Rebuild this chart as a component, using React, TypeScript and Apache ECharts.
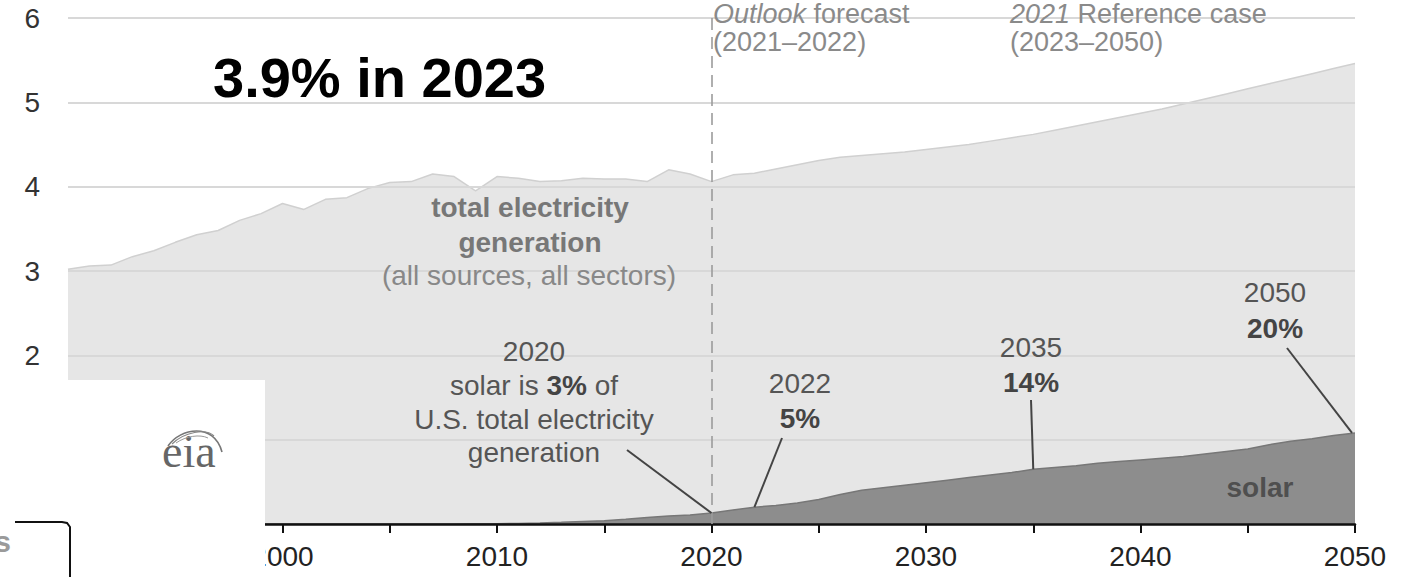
import React, { useEffect, useRef } from 'react';
import * as echarts from 'echarts';

const years = [
  1990, 1991, 1992, 1993, 1994, 1995, 1996, 1997, 1998, 1999,
  2000, 2001, 2002, 2003, 2004, 2005, 2006, 2007, 2008, 2009,
  2010, 2011, 2012, 2013, 2014, 2015, 2016, 2017, 2018, 2019,
  2020, 2021, 2022, 2023, 2024, 2025, 2026, 2027, 2028, 2029,
  2030, 2031, 2032, 2033, 2034, 2035, 2036, 2037, 2038, 2039,
  2040, 2041, 2042, 2043, 2044, 2045, 2046, 2047, 2048, 2049,
  2050,
];

// total U.S. electricity generation, trillion kWh (history + forecast)
const totalGeneration = [
  3.02, 3.06, 3.07, 3.17, 3.24, 3.34, 3.43, 3.48, 3.60, 3.68,
  3.80, 3.73, 3.85, 3.87, 3.98, 4.05, 4.06, 4.15, 4.12, 3.95,
  4.12, 4.10, 4.06, 4.07, 4.10, 4.09, 4.09, 4.06, 4.20, 4.15,
  4.06, 4.14, 4.16, 4.21, 4.26, 4.31, 4.35, 4.37, 4.39, 4.41,
  4.44, 4.47, 4.50, 4.54, 4.58, 4.62, 4.67, 4.72, 4.77, 4.82,
  4.87, 4.92, 4.98, 5.04, 5.10, 5.16, 5.22, 5.28, 5.34, 5.40,
  5.46,
];

// solar generation, trillion kWh
const solarGeneration = [
  0, 0, 0, 0, 0, 0, 0, 0, 0, 0,
  0, 0, 0, 0, 0, 0, 0, 0, 0.001, 0.002,
  0.003, 0.006, 0.012, 0.02, 0.03, 0.04, 0.055, 0.077, 0.094, 0.107,
  0.13, 0.165, 0.2, 0.22, 0.25, 0.29, 0.35, 0.4, 0.43, 0.46,
  0.49, 0.52, 0.55, 0.58, 0.61, 0.65, 0.67, 0.69, 0.72, 0.74,
  0.76, 0.78, 0.8, 0.83, 0.86, 0.89, 0.94, 0.98, 1.01, 1.05,
  1.08,
];

const yTicks = [0, 1, 2, 3, 4, 5, 6];
const xLabelYears = [2000, 2010, 2020, 2030, 2040, 2050];

const title = '3.9% in 2023';

const FONT = '"Liberation Sans", Arial, sans-serif';

export default function App() {
  const ref = useRef<HTMLDivElement>(null);

  useEffect(() => {
    if (!ref.current) return;
    const chart = echarts.init(ref.current, null, { renderer: 'svg' });

    const totalData = years.map((y, i) => [y, totalGeneration[i]]);
    const solarData = years.map((y, i) => [y, solarGeneration[i]]);

    chart.setOption({
      animation: false,
      backgroundColor: '#ffffff',
      grid: { left: 68, right: 54, top: 18, bottom: 53, containLabel: false },
      xAxis: {
        type: 'value',
        min: 1990,
        max: 2050,
        interval: 5,
        z: 4,
        axisLine: { show: true, lineStyle: { color: '#111', width: 2.5 } },
        axisTick: { show: true, length: 9, lineStyle: { color: '#111', width: 2 } },
        axisLabel: {
          fontSize: 28,
          fontFamily: FONT,
          color: '#222',
          margin: 18,
          formatter: (v: number) => (xLabelYears.includes(v) ? String(v) : ''),
        },
        splitLine: { show: false },
      },
      yAxis: {
        type: 'value',
        min: yTicks[0],
        max: yTicks[yTicks.length - 1],
        interval: 1,
        z: 2,
        axisLine: { show: false },
        axisTick: { show: false },
        axisLabel: { fontSize: 28, fontFamily: FONT, color: '#333', margin: 28 },
        splitLine: { show: true, lineStyle: { color: '#d8d8d8', width: 2 } },
      },
      series: [
        {
          name: 'total electricity generation',
          type: 'line',
          z: 1,
          data: totalData,
          symbol: 'none',
          lineStyle: { color: '#d0d0d0', width: 1.5 },
          areaStyle: { color: '#e6e6e6', opacity: 1 },
        },
        {
          name: 'solar',
          type: 'line',
          z: 3,
          data: solarData,
          symbol: 'none',
          lineStyle: { color: '#777', width: 1.5 },
          areaStyle: { color: '#8d8d8d', opacity: 1 },
          markLine: {
            silent: true,
            symbol: 'none',
            label: { show: false },
            lineStyle: { color: '#9c9c9c', type: [12, 7], width: 1.6 },
            data: [{ xAxis: 2020 }],
          },
        },
      ],
    });

    const px = (x: number, y: number) => chart.convertToPixel({ gridIndex: 0 }, [x, y]) as number[];
    const solarAt = (yr: number) => solarGeneration[years.indexOf(yr)];

    const txt = (x: number, y: number, text: string, opts: any = {}) => ({
      type: 'text',
      x,
      y,
      z: 50,
      style: {
        text,
        fill: opts.fill || '#555',
        fontSize: opts.fontSize || 28,
        fontWeight: opts.fontWeight || 'normal',
        fontFamily: FONT,
        lineHeight: opts.lineHeight,
        align: opts.align || 'center',
        verticalAlign: 'middle',
        rich: opts.rich,
      },
    });
    const leader = (x1: number, y1: number, p: number[]) => ({
      type: 'line',
      z: 50,
      shape: { x1, y1, x2: p[0], y2: p[1] },
      style: { stroke: '#444', lineWidth: 2 },
    });

    const p2020 = px(2020, solarAt(2020));
    const p2022 = px(2022, solarAt(2022));
    const p2035 = px(2035, solarAt(2035));
    const p2050 = px(2050, solarAt(2050));
    p2050[0] -= 3;

    const richBase = { fontSize: 28, fontFamily: FONT, fill: '#555', color: '#555' };
    const topGray = '#8a8a8a';
    const richTop = {
      i: { fontSize: 27, lineHeight: 26, fontFamily: FONT, fontStyle: 'italic', fill: topGray, color: topGray },
      r: { fontSize: 27, lineHeight: 26, fontFamily: FONT, fill: topGray, color: topGray },
    };

    const elements: any[] = [
      // title
      txt(213, 77, title, { fill: '#000', fontSize: 56, fontWeight: 'bold', align: 'left' }),
      // period labels
      txt(713, 14, '{i|Outlook}{r| forecast}', { align: 'left', rich: richTop, fontSize: 27, fill: topGray, lineHeight: 26 }),
      txt(713, 42, '(2021–2022)', { align: 'left', fill: topGray, fontSize: 27, lineHeight: 26 }),
      txt(1010, 14, '{i|2021}{r| Reference case}', { align: 'left', rich: richTop, fontSize: 27, fill: topGray, lineHeight: 26 }),
      txt(1010, 42, '(2023–2050)', { align: 'left', fill: topGray, fontSize: 27, lineHeight: 26 }),
      // total label
      txt(530, 207, 'total electricity', { fill: '#777', fontWeight: 'bold' }),
      txt(530, 242, 'generation', { fill: '#777', fontWeight: 'bold' }),
      txt(529, 275, '(all sources, all sectors)', { fill: '#888' }),
      // 2020 annotation
      txt(534, 351, '2020'),
      txt(534, 385, '{a|solar is }{b|3%}{a| of}', {
        rich: { a: richBase, b: { ...richBase, fontWeight: 'bold', fill: '#444', color: '#444' } },
      }),
      txt(534, 419, 'U.S. total electricity'),
      txt(534, 452, 'generation'),
      leader(627, 450, p2020),
      // 2022
      txt(800, 383, '2022'),
      txt(800, 418, '5%', { fontWeight: 'bold', fill: '#444' }),
      leader(782, 438, p2022),
      // 2035
      txt(1031, 347, '2035'),
      txt(1031, 382, '14%', { fontWeight: 'bold', fill: '#444' }),
      leader(1031, 400, p2035),
      // 2050
      txt(1275, 292, '2050'),
      txt(1275, 328, '20%', { fontWeight: 'bold', fill: '#444' }),
      leader(1287, 348, p2050),
      // solar label
      txt(1260, 487, 'solar', { fontWeight: 'bold', fill: '#4f4f4f' }),
      // white overlay box with eia logo
      {
        type: 'rect',
        z: 100,
        shape: { x: 0, y: 380, width: 265, height: 197 },
        style: { fill: '#ffffff' },
      },
      {
        type: 'text',
        x: 162,
        y: 474,
        z: 101,
        style: {
          text: 'eia',
          fill: '#666',
          fontSize: 46,
          fontFamily: '"Liberation Serif", "DejaVu Serif", serif',
          align: 'left',
          verticalAlign: 'bottom',
        },
      },
      {
        type: 'bezierCurve',
        z: 101,
        shape: { x1: 168, y1: 446, cpx1: 180, cpy1: 428, cpx2: 214, cpy2: 422, x2: 222, y2: 452 },
        style: { stroke: '#777', lineWidth: 1.6, fill: 'none' },
      },
      {
        type: 'bezierCurve',
        z: 101,
        shape: { x1: 172, y1: 444, cpx1: 184, cpy1: 432, cpx2: 206, cpy2: 428, x2: 214, y2: 436 },
        style: { stroke: '#888', lineWidth: 1.2, fill: 'none' },
      },
      {
        type: 'bezierCurve',
        z: 101,
        shape: { x1: 176, y1: 443, cpx1: 186, cpy1: 436, cpx2: 200, cpy2: 434, x2: 208, y2: 438 },
        style: { stroke: '#999', lineWidth: 1, fill: 'none' },
      },
      {
        type: 'text',
        x: 11,
        y: 541,
        z: 101,
        style: {
          text: 's',
          fill: '#9a9a9a',
          fontSize: 30,
          fontWeight: 'bold',
          fontFamily: FONT,
          align: 'right',
          verticalAlign: 'middle',
        },
      },
      {
        type: 'polyline',
        z: 101,
        shape: { points: [[15, 522], [62, 522], [67, 523], [70, 527], [70, 577]] },
        style: { stroke: '#111', lineWidth: 2, fill: 'none' },
      },
    ];

    chart.setOption({ graphic: { elements } });

    return () => chart.dispose();
  }, []);

  return (
    <div
      ref={ref}
      style={{ position: 'fixed', left: 0, top: 0, width: 1409, height: 577, background: '#fff' }}
    />
  );
}
